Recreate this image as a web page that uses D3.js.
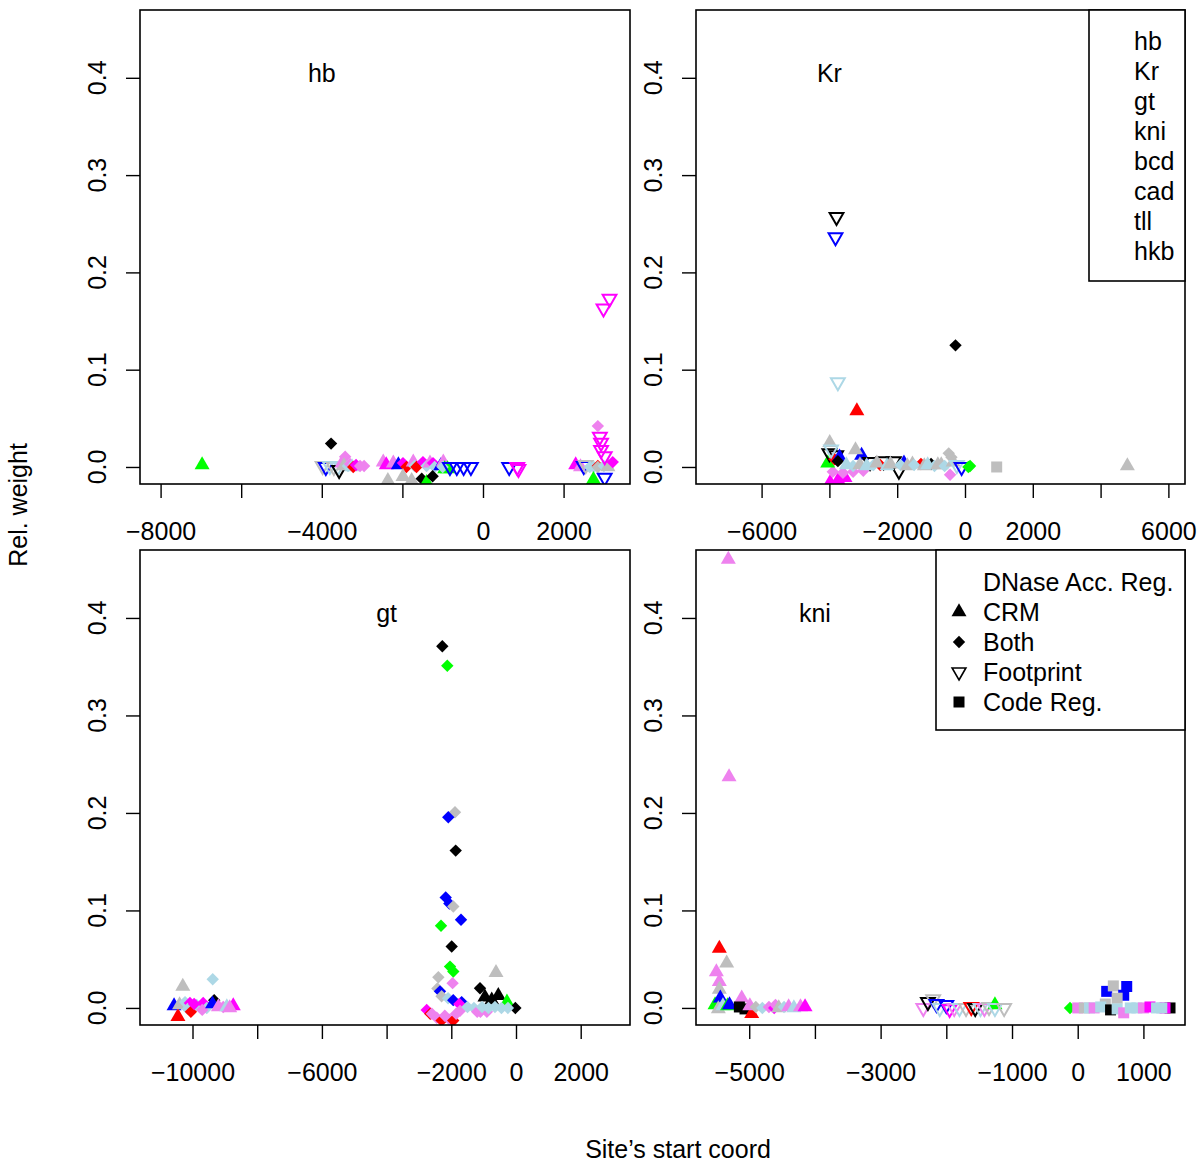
<!DOCTYPE html>
<html><head><meta charset="utf-8">
<script src="https://cdn.jsdelivr.net/npm/d3@7"></script>
<style>
body{margin:0;background:#fff}
svg{display:block}
text{font-family:"Liberation Sans",Arial,Helvetica,sans-serif;fill:#000}
</style>
</head><body>
<svg id="chart" width="1200" height="1167"></svg>
<script>
// ---------- data ----------
const tfNames = ["hb","Kr","gt","kni","bcd","cad","tll","hkb"];
const colorCodes = {k:"#000000", r:"#ff0000", g:"#00ff00", b:"#0000ff", y:"#bebebe", m:"#ff00ff", v:"#ee82ee", l:"#add8e6"};
const regLegend = ["DNase Acc. Reg.","CRM","Both","Footprint","Code Reg."];
const regShapes = ["", "T", "D", "F", "S"];
const yTicks = [0, 0.1, 0.2, 0.3, 0.4];
const yTickLabels = ["0.0","0.1","0.2","0.3","0.4"];
const yDomain = [-0.0175, 0.4697];

const hbXDomain = [-8511, 3648];
const hbXTicks = [-8000,-6000,-4000,-2000,0,2000];
const hbXLabels = ["\u22128000","","\u22124000","","0","2000"];
const krXDomain = [-7935, 6490];
const krXTicks = [-6000,-4000,-2000,0,2000,4000,6000];
const krXLabels = ["\u22126000","","\u22122000","0","2000","","6000"];
const gtXDomain = [-11623, 3524];
const gtXTicks = [-10000,-8000,-6000,-4000,-2000,0,2000];
const gtXLabels = ["\u221210000","","\u22126000","","\u22122000","0","2000"];
const kniXDomain = [-5810, 1633];
const kniXTicks = [-5000,-4000,-3000,-2000,-1000,0,1000];
const kniXLabels = ["\u22125000","","\u22123000","","\u22121000","0","1000"];

// [start coord, rel. weight, colour code, shape code]
const hbPoints = [
 [-6970,0.002,"g","T"],
 [-3980,0.001,"y","F"],[-3900,0.000,"b","F"],[-3800,0.001,"l","F"],[-3700,0.000,"y","F"],[-3600,0.000,"l","F"],
 [-3570,-0.003,"k","F"],[-3770,0.024,"k","D"],
 [-3500,0.004,"v","T"],[-3420,0.0105,"v","D"],[-3450,0.001,"y","T"],[-3350,0.001,"l","D"],[-3300,0.003,"v","D"],
 [-3250,0.000,"l","T"],[-3220,0.000,"r","D"],[-3150,0.002,"m","D"],[-3050,0.001,"v","D"],[-2950,0.001,"v","D"],
 [-2475,0.005,"v","T"],[-2400,0.002,"m","T"],[-2225,0.004,"v","T"],[-2100,0.002,"b","T"],[-1985,0.004,"m","D"],
 [-1900,0.000,"r","D"],[-1730,0.005,"v","T"],[-1700,0.001,"l","D"],[-1650,0.000,"r","D"],[-1490,0.005,"m","D"],
 [-1400,0.001,"l","D"],[-1315,0.004,"v","T"],[-1240,0.004,"m","D"],[-1200,0.000,"l","D"],[-1050,0.001,"b","T"],
 [-985,0.005,"v","T"],[-950,-0.002,"g","T"],[-880,-0.002,"g","T"],[-1000,0.000,"l","D"],
 [-2360,-0.014,"y","T"],[-1985,-0.010,"y","T"],[-1770,-0.014,"y","T"],
 [-1520,-0.012,"k","D"],[-1400,-0.016,"g","T"],[-1250,-0.0095,"k","D"],
 [-820,0.000,"b","F"],[-650,0.000,"b","F"],[-480,0.000,"b","F"],[-300,0.000,"b","F"],
 [650,0.000,"b","F"],[850,0.000,"m","F"],[880,-0.002,"m","F"],
 [2300,0.002,"m","T"],[2420,0.000,"v","T"],[2500,0.001,"b","F"],[2550,0.002,"y","F"],[2650,0.000,"l","D"],
 [2750,0.000,"l","D"],[2850,0.001,"r","D"],[2850,0.000,"y","D"],[3000,0.001,"l","D"],[3100,0.000,"y","T"],
 [3140,0.173,"m","F"],[2990,0.163,"m","F"],[2900,0.031,"m","F"],[2930,0.025,"m","F"],[2930,0.0175,"m","F"],
 [3020,0.011,"m","F"],[2850,0.042,"v","D"],[3220,0.005,"m","D"],[3020,-0.011,"b","F"],[2740,-0.013,"g","T"]
];
const krPoints = [
 [-3790,0.257,"k","F"],[-3820,0.236,"b","F"],[-3750,0.087,"l","F"],[-3190,0.0575,"r","T"],[-280,0.125,"k","D"],
 [-3980,-0.016,"m","T"],[-3740,-0.0135,"m","T"],[-3540,-0.011,"m","T"],
 [-3900,-0.005,"v","D"],[-3600,-0.006,"v","D"],[-3300,-0.005,"v","D"],[-3000,-0.004,"v","D"],
 [-4050,0.004,"g","T"],[-4000,0.014,"k","F"],[-3800,0.012,"k","F"],[-3850,0.008,"r","D"],
 [-3700,0.010,"b","T"],[-3750,0.006,"k","D"],[-3050,0.012,"b","T"],
 [-2800,0.005,"k","F"],[-2400,0.006,"k","F"],[-2100,0.006,"k","F"],[-1950,-0.004,"k","F"],[-1800,0.004,"b","T"],
 [-1300,0.003,"r","D"],[-1000,0.003,"k","D"],[-2500,0.002,"r","D"],
 [-3500,0.002,"l","T"],[-3300,0.001,"l","D"],[-3100,0.002,"y","T"],[-2900,0.001,"l","T"],[-2700,0.002,"l","D"],
 [-2600,0.004,"y","T"],[-2300,0.001,"l","T"],[-2200,0.003,"y","T"],[-1900,0.002,"l","D"],[-1700,0.001,"y","T"],
 [-1550,0.003,"y","T"],[-1500,0.002,"l","D"],[-1200,0.001,"y","T"],[-1100,0.002,"l","T"],[-900,0.001,"l","D"],
 [-800,0.002,"y","T"],[-700,0.002,"y","T"],[-600,0.001,"l","D"],[-440,-0.008,"v","D"],[-480,0.014,"y","D"],
 [-400,0.010,"y","D"],[-350,0.005,"y","T"],
 [-3990,0.025,"y","T"],[-3230,0.0175,"y","T"],[-3950,0.018,"l","F"],
 [-240,0.002,"l","F"],[-100,0.000,"b","F"],[100,0.000,"g","D"],[150,0.001,"g","D"],
 [935,0.000,"y","S"],[4790,0.001,"y","T"]
];
const gtPoints = [
 [-10570,0.002,"b","T"],[-10450,-0.009,"r","T"],[-10300,0.022,"y","T"],[-10400,0.003,"y","T"],[-10230,0.006,"l","D"],
 [-10080,0.005,"m","D"],[-10150,-0.001,"l","D"],[-10050,-0.004,"r","D"],[-9870,0.003,"l","D"],[-9950,0.004,"m","D"],
 [-9670,0.005,"m","D"],[-9560,0.000,"l","D"],[-9700,-0.002,"v","D"],[-9375,0.0295,"l","D"],[-9330,0.008,"k","D"],
 [-9380,0.004,"b","T"],[-9200,0.001,"v","T"],[-9050,0.001,"v","D"],[-8940,0.001,"l","T"],[-8740,0.002,"m","T"],[-8850,0.000,"v","T"],
 [-2278,0.371,"k","D"],[-2124,0.351,"g","D"],[-1886,0.2007,"y","D"],[-2093,0.1956,"b","D"],[-1864,0.1614,"k","D"],
 [-2173,0.1134,"b","D"],[-2060,0.107,"b","D"],[-1938,0.104,"y","D"],[-1700,0.0904,"b","D"],[-2318,0.0843,"g","D"],
 [-1988,0.063,"k","D"],[-2040,0.0424,"g","D"],[-1938,0.0373,"g","D"],[-2400,0.0315,"y","D"],[-2430,0.020,"y","D"],
 [-1960,0.0254,"v","D"],[-618,0.0363,"y","T"],[-1113,0.0202,"k","D"],
 [-2760,-0.002,"m","D"],[-2650,-0.006,"r","D"],[-2350,0.017,"b","D"],[-2300,0.012,"y","D"],[-2100,0.010,"l","D"],
 [-1940,0.008,"b","D"],[-1680,0.006,"b","D"],[-1750,0.004,"m","D"],
 [-2600,-0.006,"v","D"],[-2450,-0.010,"v","D"],[-2300,-0.013,"r","D"],[-2200,-0.008,"v","D"],[-2050,-0.012,"v","D"],
 [-1940,-0.013,"r","D"],[-1850,-0.006,"v","D"],[-1730,-0.003,"v","D"],
 [-1500,0.001,"l","D"],[-1300,0.000,"l","D"],[-1200,-0.004,"v","D"],[-1100,-0.004,"v","D"],[-960,0.011,"k","T"],
 [-900,-0.004,"v","D"],[-750,0.008,"k","T"],[-547,0.0125,"k","T"],[-280,0.006,"g","T"],
 [-1050,0.001,"l","D"],[-850,0.000,"l","D"],[-650,0.001,"l","D"],[-450,0.000,"l","D"],[-20,0.000,"k","D"],[-250,0.000,"l","D"]
];
const kniPoints = [
 [-5318,0.460,"v","T"],[-5307,0.237,"v","T"],[-5455,0.061,"r","T"],[-5343,0.046,"y","T"],[-5500,0.037,"v","T"],
 [-5455,0.027,"v","T"],[-5455,0.019,"y","T"],
 [-5520,0.003,"g","T"],[-5440,0.010,"b","T"],[-5470,-0.001,"y","T"],[-5400,0.002,"l","T"],[-5330,0.002,"g","T"],
 [-5300,0.003,"b","T"],[-5114,0.010,"v","T"],[-5150,0.001,"k","S"],[-5064,-0.001,"k","S"],[-4962,-0.006,"r","T"],
 [-4990,0.002,"v","T"],[-4900,0.001,"y","D"],[-4800,0.000,"l","D"],[-4700,0.001,"v","D"],[-4620,0.000,"m","D"],
 [-4600,0.003,"v","D"],[-4550,0.000,"y","T"],[-4470,0.001,"l","D"],[-4400,0.001,"v","T"],[-4320,0.000,"l","T"],
 [-4220,0.001,"v","T"],[-4150,0.001,"m","T"],
 [-2350,0.000,"v","F"],[-2280,0.006,"k","F"],[-2200,0.009,"y","F"],[-2150,0.004,"b","F"],[-2100,0.000,"l","F"],
 [-2000,0.003,"b","F"],[-1950,-0.001,"m","F"],[-1880,0.000,"v","F"],[-1800,0.000,"l","F"],[-1700,0.000,"y","F"],
 [-1620,0.001,"r","F"],[-1560,0.000,"k","F"],[-1480,0.000,"l","F"],[-1420,0.000,"v","F"],[-1350,0.001,"y","F"],
 [-1260,0.003,"g","T"],[-1260,0.000,"l","F"],[-1120,0.000,"y","F"],
 [-117,0.000,"g","D"],[0,0.000,"v","S"],[100,0.000,"y","S"],[180,0.000,"l","S"],[250,0.000,"v","S"],
 [441,0.017,"b","S"],[542,0.0226,"y","S"],[746,0.022,"b","S"],[700,0.013,"b","S"],[600,0.010,"y","S"],
 [420,0.004,"y","S"],[350,0.001,"l","S"],[500,-0.002,"k","S"],[600,-0.001,"l","S"],[700,-0.005,"v","S"],
 [800,0.000,"l","S"],[900,0.000,"l","S"],[1000,0.000,"v","S"],[1100,0.001,"m","S"],[1200,0.000,"l","S"],
 [1405,0.000,"k","S"],[1329,0.000,"m","S"],[1280,0.000,"l","S"]
];

// ---------- layout ----------
const panels = [
 {title:"hb",  pts:hbPoints,  xd:hbXDomain,  xt:hbXTicks,  xl:hbXLabels,  x0:140, x1:630,  y0:10,  y1:484},
 {title:"Kr",  pts:krPoints,  xd:krXDomain,  xt:krXTicks,  xl:krXLabels,  x0:696, x1:1185, y0:10,  y1:484},
 {title:"gt",  pts:gtPoints,  xd:gtXDomain,  xt:gtXTicks,  xl:gtXLabels,  x0:140, x1:630,  y0:550, y1:1025},
 {title:"kni", pts:kniPoints, xd:kniXDomain, xt:kniXTicks, xl:kniXLabels, x0:696, x1:1185, y0:550, y1:1025}
];
const FS = 25;
const svg = d3.select("#chart");

function symPath(code){
  if(code==="T"){ const r=8.66, xc=7.5, yc=4.33; return `M0,${-r}L${xc},${yc}L${-xc},${yc}Z`; }
  if(code==="F"){ const r=8.0, xc=6.9, yc=4.0; return `M0,${r}L${xc},${-yc}L${-xc},${-yc}Z`; }
  if(code==="D"){ const d=6.2; return `M0,${-d}L${d},0L0,${d}L${-d},0Z`; }
  if(code==="S"){ const s=5.5; return `M${-s},${-s}H${s}V${s}H${-s}Z`; }
  return "";
}
function drawSym(g, code, col, x, y){
  const p = g.append("path").attr("d", symPath(code)).attr("transform",`translate(${x},${y})`);
  if(code==="F") p.attr("fill","none").attr("stroke",col).attr("stroke-width",2);
  else p.attr("fill",col).attr("stroke","none");
}

panels.forEach((P,i)=>{
  const x = d3.scaleLinear().domain(P.xd).range([P.x0,P.x1]);
  const y = d3.scaleLinear().domain(yDomain).range([P.y1,P.y0]);
  const cid = "clip"+i;
  svg.append("clipPath").attr("id",cid).append("rect")
     .attr("x",P.x0).attr("y",P.y0).attr("width",P.x1-P.x0).attr("height",P.y1-P.y0);
  const g = svg.append("g").attr("clip-path",`url(#${cid})`);
  P.pts.forEach(d=> drawSym(g, d[3], colorCodes[d[2]], x(d[0]), y(d[1])));

  svg.append("rect").attr("x",P.x0).attr("y",P.y0).attr("width",P.x1-P.x0).attr("height",P.y1-P.y0)
     .attr("fill","none").attr("stroke","#000").attr("stroke-width",1.6);

  const xa = d3.axisBottom(x).tickValues(P.xt).tickSize(14).tickPadding(24)
     .tickFormat((d,k)=>P.xl[k]);
  const gx = svg.append("g").attr("transform",`translate(0,${P.y1})`).call(xa);
  gx.select(".domain").remove();
  gx.selectAll("line").attr("stroke","#000").attr("stroke-width",1.4);
  gx.selectAll("text").attr("font-size",FS).attr("font-family","Liberation Sans, Arial, sans-serif").attr("fill","#000");

  const ya = d3.axisLeft(y).tickValues(yTicks).tickSize(14).tickFormat("");
  const gy = svg.append("g").attr("transform",`translate(${P.x0},0)`).call(ya);
  gy.select(".domain").remove();
  gy.selectAll("line").attr("stroke","#000").attr("stroke-width",1.4);
  yTicks.forEach((t,k)=>{
    const tx = P.x0-34, ty = y(t);
    svg.append("text").attr("x",tx).attr("y",ty).attr("text-anchor","middle")
       .attr("transform",`rotate(-90,${tx},${ty})`).attr("font-size",FS).text(yTickLabels[k]);
  });

  svg.append("text").attr("x",x(-4000)).attr("y",y(0.4)+4).attr("text-anchor","middle")
     .attr("font-size",FS).text(P.title);
});

// legend 1 (TF names) in Kr panel
svg.append("rect").attr("x",1089).attr("y",10).attr("width",96).attr("height",271)
   .attr("fill","#fff").attr("stroke","#000").attr("stroke-width",1.6);
tfNames.forEach((n,k)=>{
  svg.append("text").attr("x",1134).attr("y",50+30*k).attr("font-size",FS).text(n);
});

// legend 2 (region types) in kni panel
svg.append("rect").attr("x",936).attr("y",550).attr("width",249).attr("height",180)
   .attr("fill","#fff").attr("stroke","#000").attr("stroke-width",1.6);
regLegend.forEach((n,k)=>{
  const cy = 582+30*k;
  svg.append("text").attr("x",983).attr("y",cy+9).attr("font-size",FS).text(n);
  if(regShapes[k]){
    const code = regShapes[k];
    const p = svg.append("path").attr("d", symPath(code)).attr("transform",`translate(959,${cy})`);
    if(code==="F") p.attr("fill","none").attr("stroke","#000").attr("stroke-width",1.6);
    else p.attr("fill","#000");
  }
});

// axis titles
svg.append("text").attr("x",27).attr("y",505).attr("text-anchor","middle")
   .attr("transform","rotate(-90,27,505)").attr("font-size",FS).text("Rel. weight");
svg.append("text").attr("x",678).attr("y",1158).attr("text-anchor","middle")
   .attr("font-size",FS).text("Site\u2019s start coord");
</script>
</body></html>
